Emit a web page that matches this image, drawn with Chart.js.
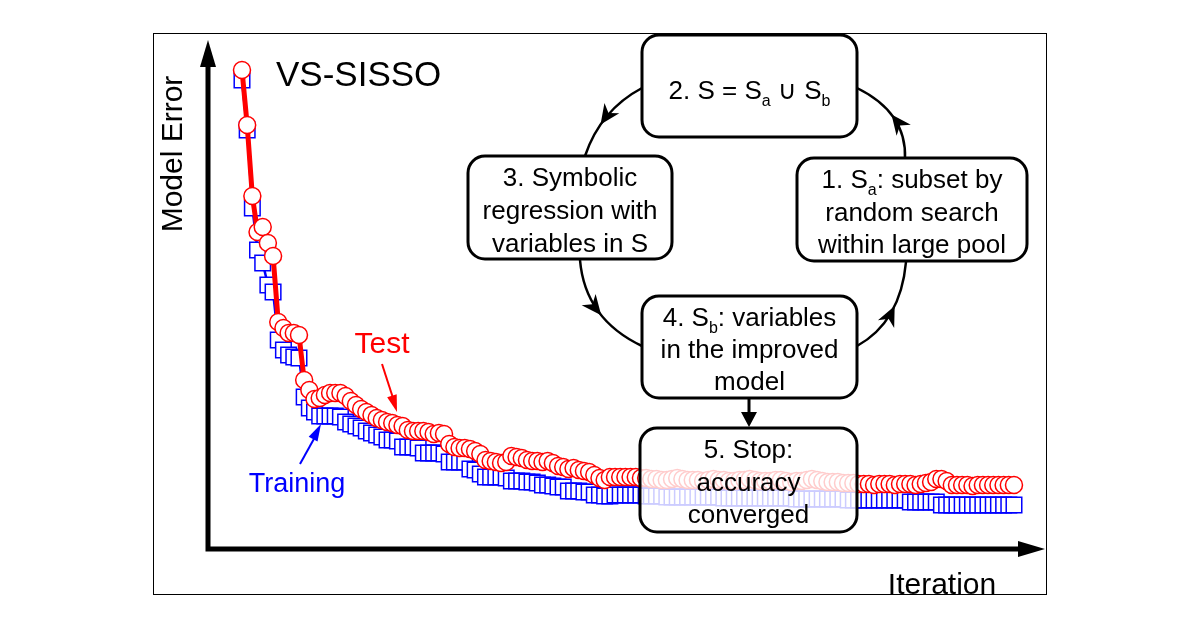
<!DOCTYPE html>
<html><head><meta charset="utf-8">
<script src="https://cdn.jsdelivr.net/npm/chart.js@4.4.1/dist/chart.umd.min.js"></script>
<style>html,body{margin:0;padding:0;background:#fff;}#wrap{width:1200px;height:628px;position:relative;}</style>
</head><body><div id="wrap"><canvas id="c" width="1200" height="628"></canvas></div>
<script>
// ---------------- data ----------------
const testError = [
 95.8, 84.8, 70.6, 63.4, 64.4, 61.2, 58.6, 45.4, 44.2, 43.2,
 43.2, 42.8, 33.8, 31.8, 30.0, 30.2, 30.8, 31.2, 31.2, 31.2,
 30.6, 29.6, 28.8, 28.0, 27.4, 26.8, 26.2, 25.8, 25.4, 25.2,
 24.8, 24.6, 23.8, 23.6, 23.6, 23.6, 23.4, 23.0, 23.2, 23.0,
 21.0, 20.4, 20.2, 20.2, 20.0, 19.6, 19.0, 17.8, 17.6, 17.4,
 17.2, 17.4, 18.6, 18.4, 18.2, 17.8, 17.6, 17.6, 17.4, 17.6,
 17.2, 16.6, 16.4, 16.0, 16.2, 15.8, 15.6, 15.4, 14.8, 14.2,
 13.8, 14.4, 14.4, 14.4, 14.4, 14.4, 14.4, 14.2, 14.2, 14.0,
 14.0, 13.8, 13.8, 14.0, 14.2, 14.0, 13.8, 13.8, 13.8, 13.6,
 13.8, 14.0, 13.8, 13.8, 13.6, 13.6, 13.8, 13.8, 14.0, 13.8,
 13.6, 13.6, 13.6, 13.8, 13.8, 13.6, 13.4, 13.6, 13.6, 13.8,
 14.0, 13.8, 13.6, 13.4, 13.4, 13.4, 13.2, 13.2, 13.2, 13.0,
 13.0, 13.0, 12.8, 13.0, 13.0, 13.0, 12.8, 13.0, 13.0, 13.0,
 12.8, 13.0, 13.2, 13.4, 14.0, 14.0, 13.6, 12.8, 12.8, 12.8,
 12.8, 12.6, 12.8, 12.8, 12.8, 12.8, 12.8, 12.8, 12.8, 12.8
];
const trainingError = [
 93.8, 83.8, 68.2, 59.8, 57.2, 52.8, 51.4, 41.8, 39.8, 38.8,
 38.4, 38.2, 30.4, 28.2, 27.4, 26.6, 26.6, 26.6, 26.6, 26.4,
 25.4, 25.0, 24.6, 24.2, 23.6, 23.2, 22.8, 22.4, 21.8, 21.8,
 21.6, 20.4, 20.4, 20.4, 20.2, 19.2, 19.2, 19.2, 19.2, 19.0,
 17.4, 17.4, 17.4, 17.4, 16.0, 15.8, 15.0, 14.4, 14.4, 14.4,
 14.4, 14.2, 13.6, 13.6, 13.6, 13.4, 13.4, 13.2, 12.8, 12.8,
 12.6, 12.4, 12.4, 11.6, 11.6, 11.6, 11.4, 11.4, 10.8, 10.8,
 10.6, 10.6, 10.8, 10.8, 10.8, 10.8, 10.8, 10.8, 10.6, 10.6,
 10.6, 10.6, 10.4, 10.4, 10.4, 10.4, 10.4, 10.4, 10.4, 10.4,
 10.4, 10.4, 10.4, 10.2, 10.2, 10.2, 10.2, 10.2, 10.2, 10.2,
 10.2, 10.2, 10.2, 10.2, 10.2, 10.2, 10.2, 10.0, 10.0, 10.0,
 10.0, 10.0, 10.0, 10.0, 10.0, 10.0, 10.0, 9.8, 9.8, 9.8,
 9.8, 9.8, 9.8, 9.8, 9.8, 9.8, 9.8, 9.8, 9.8, 9.4,
 9.4, 9.4, 9.4, 9.4, 9.4, 8.8, 8.8, 8.8, 8.8, 8.8,
 8.8, 8.8, 8.8, 8.8, 8.8, 8.8, 8.8, 8.8, 8.8, 8.8
];
const iterations = testError.map((_, k) => k + 1);
const seriesNames = ['Training', 'Test'];
const xTitle = 'Iteration';
const yTitle = 'Model Error';
const chartTitle = 'VS-SISSO';

// ---------------- drawing helpers ----------------
const FONT = '"Liberation Sans", Arial, "DejaVu Sans", sans-serif';

function roundRect(ctx, x, y, w, h, r) {
  ctx.beginPath();
  ctx.moveTo(x + r, y);
  ctx.lineTo(x + w - r, y);
  ctx.arcTo(x + w, y, x + w, y + r, r);
  ctx.lineTo(x + w, y + h - r);
  ctx.arcTo(x + w, y + h, x + w - r, y + h, r);
  ctx.lineTo(x + r, y + h);
  ctx.arcTo(x, y + h, x, y + h - r, r);
  ctx.lineTo(x, y + r);
  ctx.arcTo(x, y, x + r, y, r);
  ctx.closePath();
}

function drawRich(ctx, segs, cx, baseline, size) {
  const subSize = Math.round(size * 0.62);
  let widths = segs.map(s => {
    ctx.font = (s[1] ? subSize : size) + 'px ' + FONT;
    return ctx.measureText(s[0]).width;
  });
  const total = widths.reduce((a, b) => a + b, 0);
  let x = cx - total / 2;
  ctx.textAlign = 'left';
  ctx.textBaseline = 'alphabetic';
  segs.forEach((s, i) => {
    ctx.font = (s[1] ? subSize : size) + 'px ' + FONT;
    ctx.fillText(s[0], x, s[1] ? baseline + size * 0.25 : baseline);
    x += widths[i];
  });
}

function stealth(ctx, tx, ty, ang, len, half) {
  ctx.save();
  ctx.translate(tx, ty);
  ctx.rotate(ang);
  ctx.beginPath();
  ctx.moveTo(0, 0);
  ctx.lineTo(-len, -half);
  ctx.lineTo(-len * 0.7, 0);
  ctx.lineTo(-len, half);
  ctx.closePath();
  ctx.fill();
  ctx.restore();
}
function tri(ctx, tx, ty, ang, len, half) {
  ctx.save();
  ctx.translate(tx, ty);
  ctx.rotate(ang);
  ctx.beginPath();
  ctx.moveTo(0, 0);
  ctx.lineTo(-len, -half);
  ctx.lineTo(-len, half);
  ctx.closePath();
  ctx.fill();
  ctx.restore();
}

function curvedArrow(ctx, p0, m, p2, tArrow) {
  const c = [2 * m[0] - (p0[0] + p2[0]) / 2, 2 * m[1] - (p0[1] + p2[1]) / 2];
  ctx.beginPath();
  ctx.moveTo(p0[0], p0[1]);
  ctx.quadraticCurveTo(c[0], c[1], p2[0], p2[1]);
  ctx.stroke();
  const t = tArrow;
  const bx = (1 - t) * (1 - t) * p0[0] + 2 * (1 - t) * t * c[0] + t * t * p2[0];
  const by = (1 - t) * (1 - t) * p0[1] + 2 * (1 - t) * t * c[1] + t * t * p2[1];
  const dx = 2 * (1 - t) * (c[0] - p0[0]) + 2 * t * (p2[0] - c[0]);
  const dy = 2 * (1 - t) * (c[1] - p0[1]) + 2 * t * (p2[1] - c[1]);
  stealth(ctx, bx, by, Math.atan2(dy, dx), 20, 9);
}

function box(ctx, x, y, w, h, lines, fill) {
  ctx.save();
  roundRect(ctx, x, y, w, h, 17);
  ctx.fillStyle = fill;
  ctx.fill();
  ctx.lineWidth = 3;
  ctx.strokeStyle = '#000';
  ctx.stroke();
  ctx.fillStyle = '#000';
  lines.forEach(l => drawRich(ctx, l.segs, x + w / 2, l.b, 26));
  ctx.restore();
}

const overlay = {
  id: 'overlay',
  beforeDraw(chart) {
    const ctx = chart.ctx;
    ctx.save();
    ctx.fillStyle = '#fff';
    ctx.fillRect(0, 0, chart.width, chart.height);
    ctx.restore();
  },
  afterDraw(chart) {
    const ctx = chart.ctx;
    const a = chart.chartArea;
    ctx.save();
    // frame
    ctx.strokeStyle = '#000';
    ctx.lineWidth = 1;
    ctx.strokeRect(153.5, 33.5, 893, 561);
    // axes
    ctx.fillStyle = '#000';
    ctx.strokeStyle = '#000';
    ctx.lineWidth = 5;
    ctx.beginPath();
    ctx.moveTo(a.left, a.bottom + 2.5);
    ctx.lineTo(a.left, 64);
    ctx.moveTo(a.left - 2.5, a.bottom);
    ctx.lineTo(1020, a.bottom);
    ctx.stroke();
    tri(ctx, a.left, 40, -Math.PI / 2, 27, 8);
    tri(ctx, 1045, a.bottom, 0, 27, 8);
    // axis titles
    ctx.font = '30px ' + FONT;
    ctx.textAlign = 'center';
    ctx.textBaseline = 'alphabetic';
    ctx.fillText(xTitle, 942, 594);
    ctx.save();
    ctx.translate(182, 154);
    ctx.rotate(-Math.PI / 2);
    ctx.fillText(yTitle, 0, 0);
    ctx.restore();
    // title
    ctx.font = '35px ' + FONT;
    ctx.textAlign = 'left';
    ctx.fillText(chartTitle, 276, 86);
    // series labels
    ctx.font = '30px ' + FONT;
    ctx.fillStyle = '#ff0000';
    ctx.textAlign = 'center';
    ctx.fillText(seriesNames[1], 382, 353);
    ctx.strokeStyle = '#ff0000';
    ctx.lineWidth = 2;
    ctx.beginPath(); ctx.moveTo(382, 364); ctx.lineTo(393, 398); ctx.stroke();
    tri(ctx, 397, 412, Math.atan2(48, 15), 17, 5);
    ctx.font = '27px ' + FONT;
    ctx.fillStyle = '#0000ff';
    ctx.fillText(seriesNames[0], 297, 492);
    ctx.strokeStyle = '#0000ff';
    ctx.beginPath(); ctx.moveTo(300, 464); ctx.lineTo(315, 437); ctx.stroke();
    tri(ctx, 321, 424, Math.atan2(-40, 21), 17, 5);
    // flowchart arcs
    ctx.fillStyle = '#000';
    ctx.strokeStyle = '#000';
    ctx.lineWidth = 2.5;
    curvedArrow(ctx, [642, 88], [607, 116], [585, 156], 0.62);
    curvedArrow(ctx, [580, 260], [598, 311], [642, 346], 0.55);
    curvedArrow(ctx, [857, 346], [891, 313], [906, 262], 0.58);
    curvedArrow(ctx, [905, 159], [894, 118], [857, 88], 0.55);
    // vertical arrow
    ctx.lineWidth = 3;
    ctx.beginPath(); ctx.moveTo(749, 398); ctx.lineTo(749, 414); ctx.stroke();
    tri(ctx, 749, 427, Math.PI / 2, 15, 8);
    // boxes
    box(ctx, 642, 35, 215, 102, [
      {segs: [['2. S = S'], ['a', 1], [' \u222A S'], ['b', 1]], b: 99}
    ], '#fff');
    box(ctx, 468, 156, 204, 103, [
      {segs: [['3. Symbolic']], b: 186},
      {segs: [['regression with']], b: 219},
      {segs: [['variables in S']], b: 252}
    ], '#fff');
    box(ctx, 797, 158, 230, 103, [
      {segs: [['1. S'], ['a', 1], [': subset by']], b: 188},
      {segs: [['random search']], b: 221},
      {segs: [['within large pool']], b: 253}
    ], '#fff');
    box(ctx, 642, 296, 215, 102, [
      {segs: [['4. S'], ['b', 1], [': variables']], b: 326},
      {segs: [['in the improved']], b: 358},
      {segs: [['model']], b: 390}
    ], '#fff');
    box(ctx, 640, 428, 217, 104, [
      {segs: [['5. Stop:']], b: 458},
      {segs: [['accuracy']], b: 491},
      {segs: [['converged']], b: 523}
    ], 'rgba(255,255,255,0.8)');
    ctx.restore();
  }
};

new Chart(document.getElementById('c'), {
  type: 'line',
  data: {
    datasets: [
      {
        label: seriesNames[1],
        data: testError.map((v, k) => ({x: iterations[k], y: v})),
        borderColor: '#ff0000',
        borderWidth: 5,
        pointStyle: 'circle',
        pointRadius: 8.5,
        pointBorderWidth: 1.5,
        pointBorderColor: '#ff0000',
        pointBackgroundColor: '#ffffff',
        tension: 0,
        clip: false,
        order: 0
      },
      {
        label: seriesNames[0],
        data: trainingError.map((v, k) => ({x: iterations[k], y: v})),
        borderColor: '#0000ff',
        borderWidth: 2.5,
        pointStyle: 'rect',
        pointRadius: 11,
        pointBorderWidth: 1.5,
        pointBorderColor: '#0000ff',
        pointBackgroundColor: '#ffffff',
        tension: 0,
        clip: false,
        order: 1
      }
    ]
  },
  options: {
    responsive: false,
    devicePixelRatio: 1,
    animation: false,
    events: [],
    layout: {padding: {left: 208, top: 49, right: 160, bottom: 79}},
    plugins: {legend: {display: false}, tooltip: {enabled: false}, title: {display: false}},
    scales: {
      x: {type: 'linear', min: -5.56, max: 155.02, display: false},
      y: {type: 'linear', min: 0, max: 100, display: false}
    }
  },
  plugins: [overlay]
});
</script>
</body></html>
